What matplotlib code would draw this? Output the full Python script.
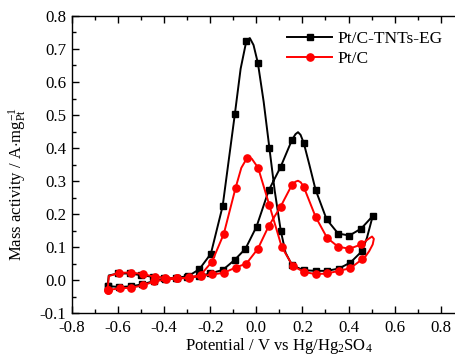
import matplotlib
matplotlib.use("Agg")
import matplotlib.pyplot as plt
from matplotlib.ticker import MultipleLocator

plt.rcParams['font.family'] = ['Liberation Serif', 'DejaVu Serif']
plt.rcParams['mathtext.fontset'] = 'custom'
plt.rcParams['mathtext.rm'] = 'Liberation Serif'
plt.rcParams['mathtext.it'] = 'Liberation Serif:italic'

# Pt/C-TNTs-EG : one closed CV loop (forward then backward scan)
pt_tnt_x = [-0.645, -0.640, -0.600, -0.550, -0.500, -0.450, -0.400, -0.350, -0.300, -0.250,
            -0.200, -0.145, -0.094, -0.047, 0.001, 0.054, 0.105, 0.155, 0.170, 0.181, 0.192, 0.206,
            0.230, 0.257, 0.305, 0.355, 0.404, 0.455, 0.505,
            0.480, 0.459, 0.408, 0.358, 0.307, 0.257, 0.205, 0.155, 0.127, 0.106, 0.080, 0.057,
            0.032, 0.007, -0.012, -0.028, -0.043, -0.068, -0.093, -0.146, -0.197, -0.247,
            -0.295, -0.345, -0.395, -0.445, -0.495, -0.545, -0.595, -0.645]
pt_tnt_y = [-0.018, 0.014, 0.020, 0.020, 0.015, 0.010, 0.007, 0.006, 0.008, 0.012,
            0.020, 0.031, 0.061, 0.095, 0.162, 0.272, 0.342, 0.425, 0.442, 0.448, 0.440, 0.415,
            0.350, 0.274, 0.184, 0.141, 0.135, 0.156, 0.194,
            0.128, 0.088, 0.053, 0.035, 0.028, 0.028, 0.030, 0.045, 0.083, 0.150, 0.270, 0.399,
            0.540, 0.657, 0.712, 0.733, 0.725, 0.640, 0.503, 0.224, 0.080, 0.033,
            0.012, 0.007, 0.003, -0.003, -0.013, -0.019, -0.021, -0.018]
pt_tnt_marks = ([0] + list(range(2, 18)) + [21] + list(range(23, 29)) + list(range(30, 37))
                + [38, 40, 42, 45] + list(range(47, 59)))

# Pt/C
ptc_x = [-0.645, -0.640, -0.596, -0.543, -0.491, -0.441, -0.394, -0.343, -0.293, -0.242,
         -0.192, -0.141, -0.090, -0.043, 0.007, 0.054, 0.105, 0.155, 0.170, 0.181, 0.193, 0.206,
         0.257, 0.307, 0.355, 0.404, 0.456, 0.485, 0.502, 0.510,
         0.505, 0.490, 0.474, 0.459, 0.408, 0.358, 0.307, 0.257, 0.206, 0.158, 0.110, 0.057,
         0.008, -0.020, -0.040, -0.065, -0.090, -0.141, -0.192, -0.242, -0.292, -0.342, -0.392,
         -0.442, -0.492, -0.542, -0.592, -0.645]
ptc_y = [-0.030, 0.012, 0.022, 0.023, 0.018, 0.010, 0.007, 0.005, 0.006, 0.012,
         0.017, 0.022, 0.038, 0.050, 0.095, 0.164, 0.222, 0.289, 0.298, 0.301, 0.296, 0.282,
         0.192, 0.128, 0.101, 0.095, 0.108, 0.124, 0.132, 0.125,
         0.108, 0.088, 0.072, 0.063, 0.036, 0.028, 0.020, 0.018, 0.025, 0.043, 0.101, 0.226,
         0.340, 0.368, 0.370, 0.340, 0.279, 0.140, 0.056, 0.015, 0.008, 0.005, 0.002,
         -0.004, -0.016, -0.023, -0.025, -0.030]
ptc_marks = ([0] + list(range(2, 18)) + list(range(21, 27)) + list(range(33, 43))
             + [44] + list(range(46, 58)))

labels = ["Pt/C-TNTs-EG", "Pt/C"]

fig = plt.figure(figsize=(4.55, 3.55), dpi=100)
ax = fig.add_axes([0.158, 0.118, 0.842, 0.837])

ax.plot(pt_tnt_x, pt_tnt_y, color='black', lw=1.4, marker='s', markersize=4.6,
        markevery=pt_tnt_marks, label=labels[0])
ax.plot(ptc_x, ptc_y, color='red', lw=1.4, marker='o', markersize=5.2,
        markevery=ptc_marks, label=labels[1])

ax.set_xlim(-0.8, 0.862)
ax.set_ylim(-0.1, 0.8)
ax.xaxis.set_minor_locator(MultipleLocator(0.1))
ax.yaxis.set_minor_locator(MultipleLocator(0.05))
ax.set_xticks([-0.8, -0.6, -0.4, -0.2, 0.0, 0.2, 0.4, 0.6, 0.8])
ax.set_xticklabels(["-0.8", "-0.6", "-0.4", "-0.2", "0.0", "0.2", "0.4", "0.6", "0.8"])
ax.set_yticks([-0.1, 0.0, 0.1, 0.2, 0.3, 0.4, 0.5, 0.6, 0.7, 0.8])
ax.set_yticklabels(["-0.1", "0.0", "0.1", "0.2", "0.3", "0.4", "0.5", "0.6", "0.7", "0.8"])

ax.spines['right'].set_visible(False)
for s in ['left', 'bottom', 'top']:
    ax.spines[s].set_linewidth(1.0)
ax.tick_params(which='both', direction='in', top=True, right=False, labelsize=12.2, pad=4)
ax.tick_params(axis='x', which='both', pad=5)
ax.tick_params(which='major', length=5, width=1)
ax.tick_params(which='minor', length=3, width=1)

ax.set_xlabel("Potential / V vs Hg/Hg$_2$SO$_4$", fontsize=12, labelpad=0)
ax.xaxis.set_label_coords(0.54, -0.078)
ax.set_ylabel("Mass activity / A$\\cdot$mg$_{\\rm Pt}^{-1}$", fontsize=12, labelpad=2)
ax.yaxis.set_label_coords(-0.112, 0.435)

ax.legend(loc='upper right', bbox_to_anchor=(0.995, 0.985), frameon=False, fontsize=12.5,
          handlelength=2.6, handletextpad=0.3, labelspacing=0.25, borderaxespad=0.2)

fig.savefig("out.png", dpi=100)
